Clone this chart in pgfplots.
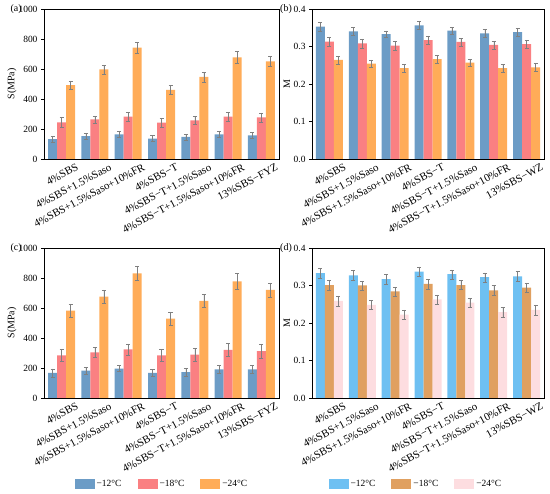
\documentclass[border=0pt]{standalone}
\usepackage{fontspec}
\setmainfont{Liberation Serif}
\usepackage{pgfplots}
\pgfplotsset{compat=1.18}
\definecolor{cA}{RGB}{108,156,198}
\definecolor{cB}{RGB}{250,128,130}
\definecolor{cC}{RGB}{255,172,88}
\definecolor{dA}{RGB}{110,192,242}
\definecolor{dB}{RGB}{224,160,96}
\definecolor{dC}{RGB}{253,221,224}
\pgfplotsset{
  panel/.style={
    scale only axis, height=150bp, clip=false,
    ybar=0pt, bar width=9bp,
    xmin=-0.53, xmax=6.53, xtick={0,...,6},
    tick label style={font=\fontsize{9.5}{10}\selectfont},
    label style={font=\fontsize{10}{11}\selectfont},
    /pgf/number format/assume math mode=true,
    /pgf/number format/1000 sep={},
    x tick label style={font=\fontsize{11}{12}\selectfont, rotate=28, anchor=north east, xshift=10.5bp, yshift=-10bp, inner sep=0bp},
    xtick align=inside, ytick align=outside,
    major tick length=3bp,
    xtick pos=bottom, ytick pos=left,
    axis line style={black, line width=0.6pt},
    every tick/.style={black, line width=0.5pt},
    error bars/y dir=both, error bars/y explicit,
    error bars/error bar style={gray, line width=0.4pt},
    error bars/error mark options={rotate=90, mark size=2bp, gray, line width=0.4pt},
    legend image code/.code={\fill[##1] (0bp,-5bp) rectangle (20bp,5bp);},
  },
  leg/.style={legend style={draw=none, fill=none, legend columns=3,
    font=\fontsize{9.5}{10}\selectfont, anchor=center,
    /tikz/every even column/.append style={column sep=14bp}}},
}
\begin{document}
\begin{tikzpicture}
% (a)
\begin{axis}[panel, at={(44bp,335bp)}, anchor=south west, width=235bp,
  ymin=0, ymax=1000, ytick={0,200,...,1000}, ylabel={S(MPa)},
  ylabel style={at={(axis description cs:-0.136,0.5)}, anchor=center},
  xticklabels={4\%SBS, 4\%SBS+1.5\%Saso, 4\%SBS+1.5\%Saso+10\%FR, 4\%SBS−T, 4\%SBS−T+1.5\%Saso, 4\%SBS−T+1.5\%Saso+10\%FR, 13\%SBS−FYZ}]
\addplot[fill=cA, draw=none] coordinates {(0,133)+-(0,20) (1,153)+-(0,19) (2,164)+-(0,19) (3,136)+-(0,20) (4,147)+-(0,19) (5,164)+-(0,20) (6,158)+-(0,19)};
\addplot[fill=cB, draw=none] coordinates {(0,244)+-(0,32) (1,264)+-(0,24) (2,282)+-(0,30) (3,242)+-(0,31) (4,258)+-(0,27) (5,282)+-(0,30) (6,278)+-(0,30)};
\addplot[fill=cC, draw=none] coordinates {(0,493)+-(0,28) (1,598)+-(0,30) (2,742)+-(0,36) (3,460)+-(0,30) (4,547)+-(0,33) (5,678)+-(0,38) (6,651)+-(0,33)};
\node[anchor=east, font=\fontsize{10}{11}\selectfont, inner sep=0bp] at (axis description cs:-0.094,1) {(a)};
\end{axis}
% (b)
\begin{axis}[panel, at={(312bp,335bp)}, anchor=south west, width=232bp,
  ymin=0, ymax=0.4, ytick={0,0.1,...,0.4},
  yticklabel style={/pgf/number format/.cd, fixed, fixed zerofill, precision=1},
  ylabel={M},
  ylabel style={at={(axis description cs:-0.108,0.5)}, anchor=center},
  xticklabels={4\%SBS, 4\%SBS+1.5\%Saso, 4\%SBS+1.5\%Saso+10\%FR, 4\%SBS−T, 4\%SBS−T+1.5\%Saso, 4\%SBS−T+1.5\%Saso+10\%FR, 13\%SBS−WZ}]
\addplot[fill=cA, draw=none] coordinates {(0,0.353)+-(0,0.012) (1,0.340)+-(0,0.011) (2,0.333)+-(0,0.009) (3,0.356)+-(0,0.011) (4,0.342)+-(0,0.01) (5,0.335)+-(0,0.01) (6,0.338)+-(0,0.011)};
\addplot[fill=cB, draw=none] coordinates {(0,0.313)+-(0,0.011) (1,0.308)+-(0,0.012) (2,0.302)+-(0,0.011) (3,0.317)+-(0,0.011) (4,0.312)+-(0,0.01) (5,0.304)+-(0,0.01) (6,0.306)+-(0,0.01)};
\addplot[fill=cC, draw=none] coordinates {(0,0.264)+-(0,0.01) (1,0.254)+-(0,0.01) (2,0.242)+-(0,0.01) (3,0.266)+-(0,0.011) (4,0.257)+-(0,0.01) (5,0.242)+-(0,0.01) (6,0.244)+-(0,0.011)};
\node[anchor=east, font=\fontsize{10}{11}\selectfont, inner sep=0bp] at (axis description cs:-0.086,1) {(b)};
\end{axis}
% (c)
\begin{axis}[panel, leg, at={(44bp,96bp)}, anchor=south west, width=235bp,
  ymin=0, ymax=1000, ytick={0,200,...,1000}, ylabel={S(MPa)},
  ylabel style={at={(axis description cs:-0.136,0.5)}, anchor=center},
  legend style={at={(axis description cs:0.502,-0.573)}},
  xticklabels={4\%SBS, 4\%SBS+1.5\%Saso, 4\%SBS+1.5\%Saso+10\%FR, 4\%SBS−T, 4\%SBS−T+1.5\%Saso, 4\%SBS−T+1.5\%Saso+10\%FR, 13\%SBS−FYZ}]
\addplot[fill=cA, draw=none] coordinates {(0,167)+-(0,28) (1,182)+-(0,25) (2,196)+-(0,20) (3,167)+-(0,25) (4,173)+-(0,25) (5,191)+-(0,27) (6,191)+-(0,25)};
\addplot[fill=cB, draw=none] coordinates {(0,284)+-(0,40) (1,304)+-(0,35) (2,324)+-(0,37) (3,284)+-(0,42) (4,289)+-(0,45) (5,320)+-(0,42) (6,313)+-(0,48)};
\addplot[fill=cC, draw=none] coordinates {(0,582)+-(0,45) (1,676)+-(0,45) (2,831)+-(0,48) (3,529)+-(0,45) (4,647)+-(0,43) (5,778)+-(0,52) (6,720)+-(0,48)};
\legend{−12°C, −18°C, −24°C}
\node[anchor=east, font=\fontsize{10}{11}\selectfont, inner sep=0bp] at (axis description cs:-0.094,1) {(c)};
\end{axis}
% (d)
\begin{axis}[panel, leg, at={(312bp,96bp)}, anchor=south west, width=232bp,
  ymin=0, ymax=0.4, ytick={0,0.1,...,0.4},
  yticklabel style={/pgf/number format/.cd, fixed, fixed zerofill, precision=1},
  ylabel={M},
  ylabel style={at={(axis description cs:-0.108,0.5)}, anchor=center},
  legend style={at={(axis description cs:0.448,-0.573)}},
  xticklabels={4\%SBS, 4\%SBS+1.5\%Saso, 4\%SBS+1.5\%Saso+10\%FR, 4\%SBS−T, 4\%SBS−T+1.5\%Saso, 4\%SBS−T+1.5\%Saso+10\%FR, 13\%SBS−WZ}]
\addplot[fill=dA, draw=none] coordinates {(0,0.333)+-(0,0.013) (1,0.327)+-(0,0.013) (2,0.317)+-(0,0.013) (3,0.337)+-(0,0.013) (4,0.330)+-(0,0.012) (5,0.322)+-(0,0.012) (6,0.324)+-(0,0.013)};
\addplot[fill=dB, draw=none] coordinates {(0,0.301)+-(0,0.013) (1,0.300)+-(0,0.012) (2,0.284)+-(0,0.012) (3,0.304)+-(0,0.013) (4,0.301)+-(0,0.012) (5,0.287)+-(0,0.013) (6,0.294)+-(0,0.011)};
\addplot[fill=dC, draw=none] coordinates {(0,0.259)+-(0,0.013) (1,0.248)+-(0,0.012) (2,0.222)+-(0,0.013) (3,0.263)+-(0,0.012) (4,0.254)+-(0,0.013) (5,0.229)+-(0,0.013) (6,0.235)+-(0,0.013)};
\legend{−12°C, −18°C, −24°C}
\node[anchor=east, font=\fontsize{10}{11}\selectfont, inner sep=0bp] at (axis description cs:-0.086,1) {(d)};
\end{axis}
\pgfresetboundingbox
\useasboundingbox (0,0) rectangle (550bp,494bp);
\end{tikzpicture}
\end{document}
